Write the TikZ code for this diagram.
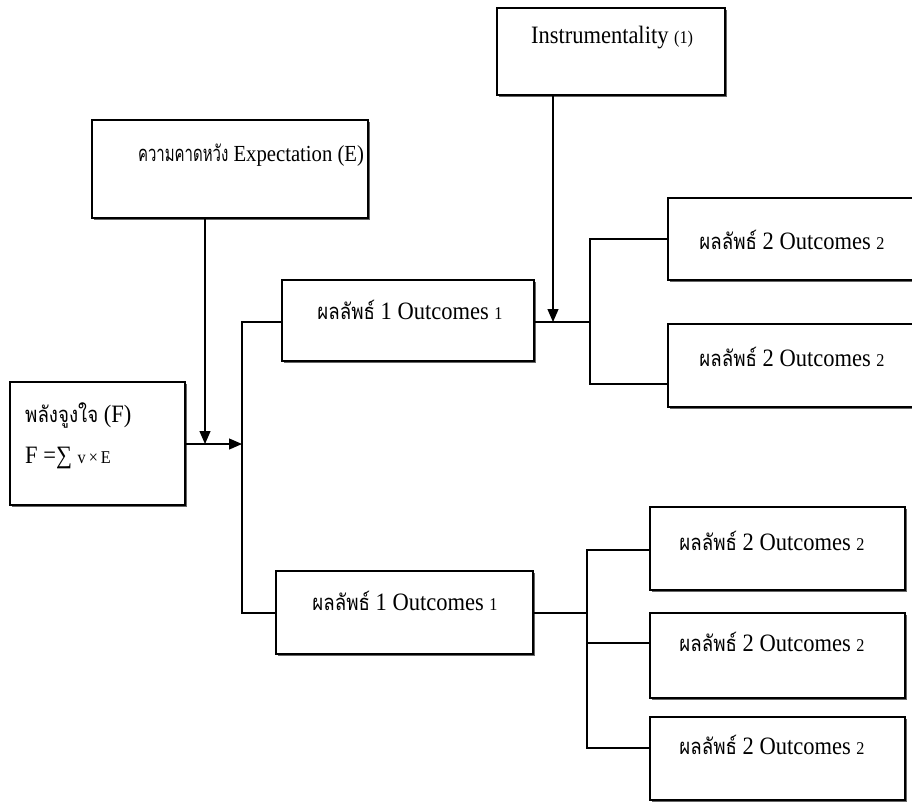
\documentclass[tikz,border=0pt]{standalone}
\usepackage{fontspec}
\setmainfont[FakeStretch=0.9]{Liberation Serif}
\newfontfamily\thaifont[Script=Thai,FakeStretch=0.85]{Loma}
\newfontfamily\thaifontn[Script=Thai,FakeStretch=0.68]{Loma}
\usetikzlibrary{arrows.meta,shadows}
\newcommand{\thx}[1]{{\thaifont\fontsize{22}{25}\selectfont #1}}
\newcommand{\thxn}[1]{{\thaifontn\fontsize{22}{25}\selectfont #1}}
\newcommand{\smx}[1]{{\fontsize{18}{20}\selectfont #1}}
\begin{document}
\begin{tikzpicture}[x=1pt,y=-1pt,
  box/.style={draw=black,line width=1.3pt,fill=white,rectangle,inner sep=0pt,
    drop shadow={shadow xshift=1.6pt,shadow yshift=-1.6pt,fill=black!60,opacity=1}},
  txt/.style={inner sep=0pt,font=\fontsize{25}{28}\selectfont},
  conn/.style={line width=1.2pt},
  arr/.style={line width=1.2pt,-{Triangle[length=13pt,width=11pt]}}]
\useasboundingbox (0,0) rectangle (912,801);
\fill[white] (0,0) rectangle (912,801);

% boxes
\node[box,minimum width=175pt,minimum height=123pt] (F) at (97.5,443.5) {};
\node[box,minimum width=276pt,minimum height=98pt] (E) at (230,169) {};
\node[box,minimum width=228pt,minimum height=87pt] (I) at (611,51.5) {};
\node[box,minimum width=252pt,minimum height=81pt] (O1a) at (408,320.5) {};
\node[box,minimum width=257pt,minimum height=83pt] (O1b) at (404.5,612.5) {};
\node[box,minimum width=246pt,minimum height=82pt] (O2a) at (791,239) {};
\node[box,minimum width=246pt,minimum height=83pt] (O2b) at (791,365.5) {};
\node[box,minimum width=255pt,minimum height=83pt] (O2c) at (777.5,548.5) {};
\node[box,minimum width=255pt,minimum height=85pt] (O2d) at (777.5,655.5) {};
\node[box,minimum width=255pt,minimum height=83pt] (O2e) at (777.5,758.5) {};

% texts
\node[txt,anchor=west] (Ft1) at (25,415) {\thx{พลังจูงใจ} (F)};
\node[txt,anchor=west] (Ft2) at (25,458) {F =∑ \smx{v\,×\,E}};
\node[txt,font=\fontsize{23}{26}\selectfont] (Et) at (251,155) {\thxn{ความคาดหวัง} Expectation (E)};
\node[txt] (It) at (612,38) {Instrumentality \smx{(1)}};
\node[txt] (O1at) at (410,310) {\thx{ผลลัพธ์} 1 Outcomes \smx{1}};
\node[txt] (O1bt) at (405,601) {\thx{ผลลัพธ์} 1 Outcomes \smx{1}};
\node[txt] (O2at) at (792,240) {\thx{ผลลัพธ์} 2 Outcomes \smx{2}};
\node[txt] (O2bt) at (792,357) {\thx{ผลลัพธ์} 2 Outcomes \smx{2}};
\node[txt] (O2ct) at (772,541) {\thx{ผลลัพธ์} 2 Outcomes \smx{2}};
\node[txt] (O2dt) at (772,642) {\thx{ผลลัพธ์} 2 Outcomes \smx{2}};
\node[txt] (O2et) at (772,745) {\thx{ผลลัพธ์} 2 Outcomes \smx{2}};

% junction coordinates
\coordinate (eF) at (205,444);
\coordinate (t1) at (242,322);
\coordinate (t2) at (242,613);
\coordinate (iA) at (553,322);
\coordinate (b1) at (590,322);
\coordinate (b1t) at (590,239);
\coordinate (b1b) at (590,384);
\coordinate (b2) at (587,613);
\coordinate (b2t) at (587,550);
\coordinate (b2m) at (587,643);
\coordinate (b2b) at (587,748);

% connectors
\draw[arr] (E.south -| eF) -- (eF);
\draw[arr] (F.east |- eF) -- (eF -| t1);
\draw[conn] (O1a.west |- t1) -- (t1) -- (t2) -- (O1b.west |- t2);
\draw[arr] (I.south -| iA) -- (iA);
\draw[conn] (O1a.east |- b1) -- (b1);
\draw[conn] (O2a.west |- b1t) -- (b1t) -- (b1b) -- (O2b.west |- b1b);
\draw[conn] (O1b.east |- b2) -- (b2);
\draw[conn] (O2c.west |- b2t) -- (b2t) -- (b2b) -- (O2e.west |- b2b);
\draw[conn] (b2m) -- (O2d.west |- b2m);
\end{tikzpicture}
\end{document}
